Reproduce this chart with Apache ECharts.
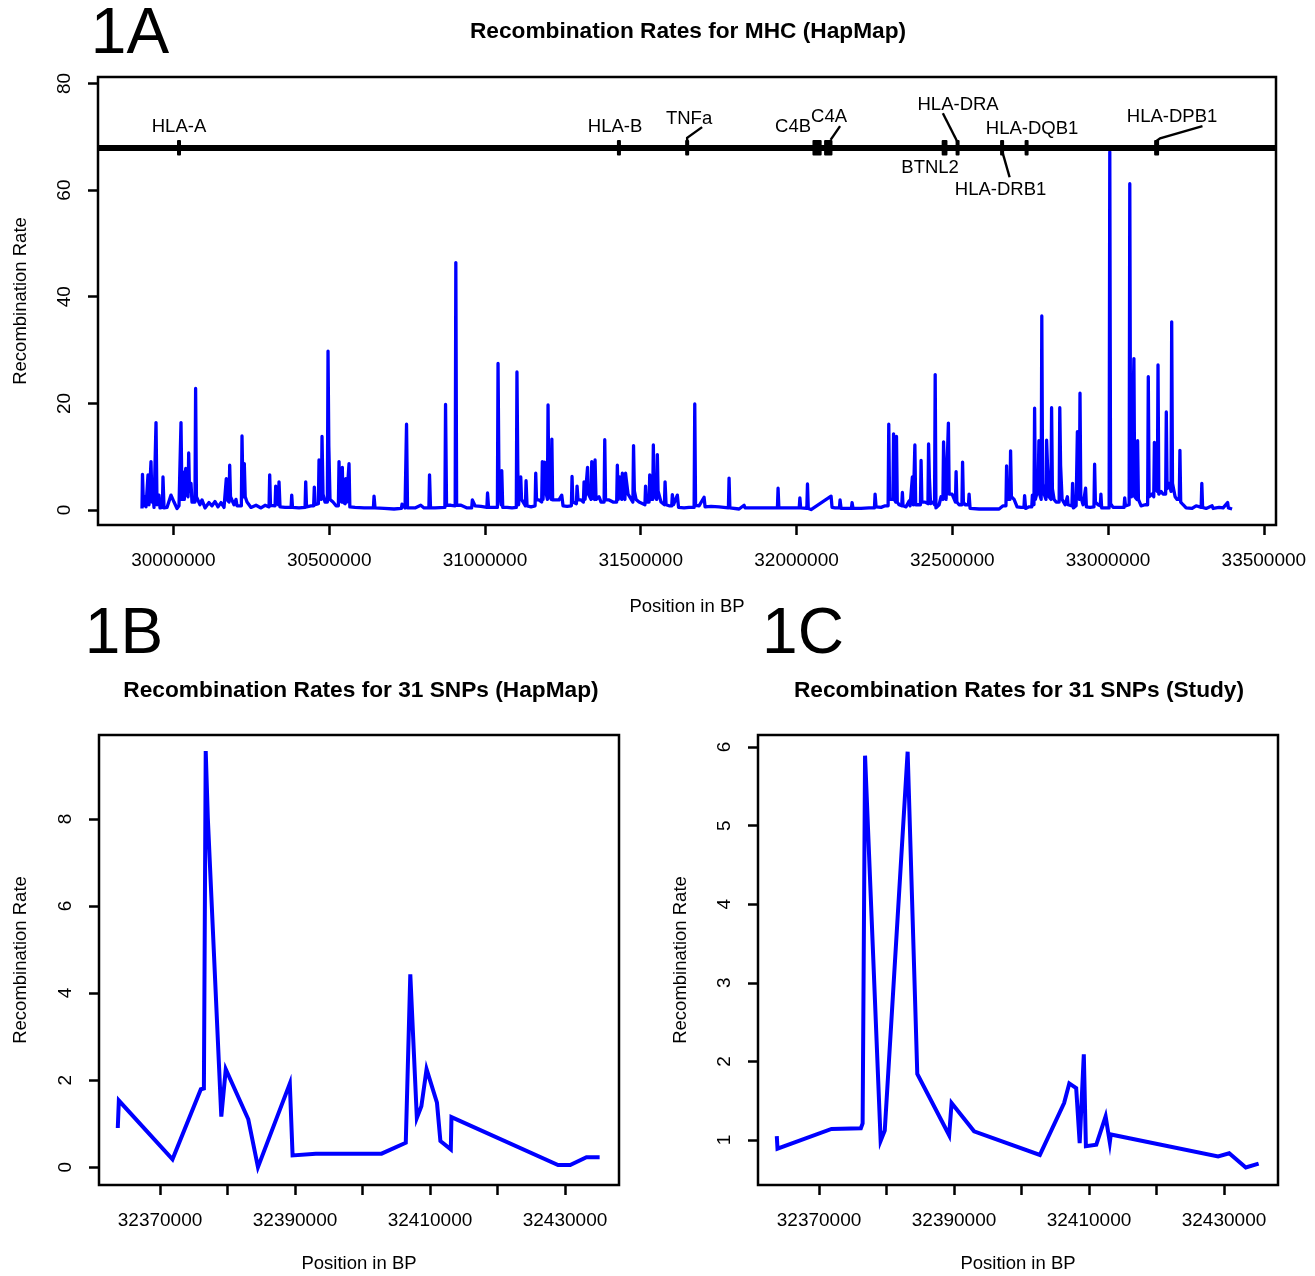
<!DOCTYPE html>
<html><head><meta charset="utf-8">
<script src="https://cdn.jsdelivr.net/npm/echarts@6/dist/echarts.min.js"></script>
<style>html,body{margin:0;padding:0;background:#fff}#c{width:1315px;height:1276px}</style>
</head><body><div id="c"></div>
<script>
// ---------------- DATA ----------------
// Panel 1A: MHC recombination rates, [position (kb), rate]
const mhcData = [
[29899.2,0.3],[29900.8,6.7],[29904.0,0.8],[29908.9,2.5],[29912.1,0.6],[29916.5,0.8],[29918.5,6.6],[29921.7,1.0],[29926.0,1.0],[29928.1,9.1],[29931.3,1.5],[29934.5,2.8],[29937.8,0.5],[29942.0,0.6],[29944.2,16.4],[29947.4,1.0],[29953.8,2.8],[29957.0,0.4],[29964.5,0.5],[29966.6,6.2],[29969.9,0.4],[29979.5,0.5],[29992.3,2.8],[30002.0,1.5],[30011.6,0.3],[30018.0,0.8],[30022.3,1.0],[30024.4,16.4],[30027.6,2.0],[30031.8,7.1],[30035.0,2.0],[30039.5,7.8],[30042.1,3.0],[30047.0,2.5],[30049.1,10.7],[30051.7,3.5],[30056.5,5.0],[30059.7,1.5],[30069.2,1.5],[30071.3,22.8],[30073.9,2.5],[30079.0,2.2],[30085.4,1.0],[30091.8,1.9],[30101.5,0.4],[30114.3,1.4],[30123.9,0.8],[30133.6,1.6],[30143.2,0.6],[30152.8,1.4],[30162.5,0.5],[30167.7,0.8],[30169.8,5.9],[30172.1,2.0],[30178.6,1.5],[30180.7,8.4],[30183.3,2.5],[30189.1,2.5],[30194.6,1.0],[30201.0,2.0],[30204.2,0.8],[30218.1,0.8],[30220.2,13.9],[30223.4,3.0],[30225.5,2.5],[30227.6,8.7],[30230.5,2.5],[30236.3,1.5],[30249.1,0.5],[30265.2,0.9],[30281.2,0.4],[30294.1,0.9],[30307.0,0.6],[30309.1,6.6],[30311.7,0.9],[30326.3,0.8],[30328.4,4.5],[30331.0,1.5],[30336.9,1.0],[30339.0,5.3],[30342.2,0.6],[30358.3,0.5],[30377.7,0.5],[30379.8,2.8],[30382.3,0.5],[30403.2,0.4],[30422.6,0.5],[30424.7,5.3],[30427.3,0.6],[30441.7,0.8],[30450.2,0.8],[30452.3,4.3],[30454.6,1.0],[30465.3,1.2],[30467.4,9.4],[30470.6,2.5],[30474.9,2.0],[30477.0,13.8],[30480.2,3.0],[30486.7,1.5],[30494.2,1.5],[30496.3,29.8],[30498.9,11.9],[30502.7,2.0],[30512.3,1.5],[30522.0,0.8],[30529.5,0.8],[30531.6,9.1],[30534.2,2.0],[30540.1,1.5],[30542.2,8.0],[30544.4,1.5],[30551.0,1.2],[30553.1,5.9],[30555.7,1.5],[30561.6,1.2],[30563.7,8.7],[30566.3,0.6],[30583.0,0.5],[30611.9,0.4],[30641.9,0.4],[30644.0,2.6],[30647.2,0.4],[30676.1,0.3],[30708.2,0.2],[30731.7,0.3],[30733.8,1.1],[30743.5,0.4],[30746.2,0.4],[30748.3,16.1],[30751.5,0.4],[30775.6,0.4],[30793.9,0.9],[30804.5,0.4],[30820.0,0.4],[30822.1,6.6],[30825.3,0.4],[30839.8,0.4],[30871.4,0.5],[30873.5,19.8],[30876.7,0.9],[30891.1,0.9],[30904.4,0.8],[30906.5,46.4],[30909.1,0.9],[30923.2,0.9],[30942.5,0.4],[30957.4,0.4],[30959.5,1.9],[30968.2,0.8],[30987.4,0.7],[31006.2,0.5],[31008.3,3.2],[31011.5,0.5],[31029.2,0.5],[31039.9,0.5],[31042.0,27.5],[31045.2,4.0],[31051.8,1.0],[31053.9,7.4],[31057.1,0.5],[31070.9,0.5],[31086.9,0.4],[31100.6,0.5],[31102.7,25.9],[31105.5,7.4],[31108.0,1.0],[31112.8,1.0],[31114.9,6.2],[31117.4,2.0],[31129.8,0.8],[31131.9,5.5],[31135.1,0.8],[31147.9,0.6],[31160.9,0.8],[31163.0,6.9],[31165.6,1.9],[31173.6,1.9],[31182.1,1.5],[31184.2,9.1],[31186.4,2.0],[31189.3,2.0],[31191.3,9.0],[31193.5,4.0],[31200.4,2.0],[31202.5,19.7],[31205.1,3.0],[31212.6,2.0],[31214.7,13.3],[31217.3,1.9],[31225.0,1.9],[31237.8,1.9],[31246.5,2.8],[31250.6,0.8],[31263.5,0.7],[31277.4,0.8],[31279.5,6.3],[31282.1,1.5],[31293.5,1.2],[31295.6,4.5],[31298.8,1.9],[31308.4,1.9],[31316.0,1.5],[31318.1,5.3],[31321.3,2.0],[31327.2,2.0],[31329.3,8.0],[31331.9,3.0],[31340.7,2.0],[31342.8,9.1],[31345.3,2.5],[31351.3,2.0],[31353.4,9.4],[31356.6,2.0],[31366.2,2.5],[31372.6,1.5],[31382.4,1.5],[31384.5,13.2],[31387.1,1.9],[31398.3,1.9],[31411.1,1.5],[31422.8,1.5],[31424.9,8.4],[31427.8,2.0],[31432.6,6.2],[31435.2,2.5],[31439.0,2.0],[31441.0,6.9],[31443.9,2.5],[31449.2,2.0],[31451.3,6.9],[31453.8,5.6],[31459.3,3.0],[31474.8,1.5],[31476.9,12.1],[31479.5,3.6],[31485.0,2.0],[31494.6,1.5],[31513.4,1.0],[31515.5,4.5],[31518.0,1.5],[31526.8,1.5],[31528.9,6.6],[31531.5,2.0],[31538.4,2.0],[31540.5,12.2],[31542.8,3.0],[31551.2,2.0],[31553.3,10.4],[31555.6,3.6],[31565.2,1.5],[31576.0,1.0],[31578.1,5.3],[31581.3,1.0],[31590.9,0.8],[31599.4,0.8],[31601.5,2.9],[31605.3,1.0],[31617.5,2.8],[31621.4,0.5],[31639.1,0.4],[31655.1,0.5],[31671.3,0.5],[31673.4,19.9],[31676.0,0.9],[31687.2,0.8],[31703.3,2.4],[31706.5,0.6],[31725.7,0.7],[31751.4,0.6],[31781.4,0.4],[31783.5,6.0],[31786.1,0.4],[31815.6,0.2],[31831.7,0.9],[31834.9,0.4],[31863.8,0.4],[31911.9,0.4],[31938.7,0.4],[31940.8,4.1],[31943.4,0.4],[31976.1,0.4],[32008.7,0.4],[32010.8,2.3],[32013.3,0.4],[32033.1,0.3],[32035.2,4.9],[32037.7,0.3],[32046.7,0.1],[32110.9,2.6],[32114.1,0.5],[32123.8,0.4],[32137.7,0.4],[32139.8,1.9],[32143.0,0.3],[32162.3,0.3],[32176.2,0.3],[32178.3,1.4],[32181.5,0.3],[32207.2,0.3],[32232.9,0.4],[32250.1,0.4],[32252.2,3.0],[32255.4,0.6],[32271.4,0.5],[32284.3,0.8],[32294.0,0.8],[32296.1,16.1],[32298.7,2.0],[32309.4,2.0],[32311.5,14.3],[32313.8,2.0],[32318.8,1.5],[32320.9,13.8],[32323.4,1.5],[32329.2,1.0],[32337.7,0.8],[32339.8,3.3],[32342.0,0.8],[32351.7,0.6],[32361.3,1.7],[32364.5,0.8],[32369.8,0.8],[32371.9,6.2],[32374.8,1.0],[32377.8,1.0],[32379.9,12.2],[32382.5,1.0],[32390.2,1.0],[32397.7,1.0],[32399.8,9.3],[32402.4,1.5],[32412.7,1.5],[32421.8,1.2],[32423.9,12.4],[32426.5,6.0],[32430.3,1.2],[32438.3,1.5],[32443.0,1.0],[32445.1,25.4],[32447.6,0.4],[32457.6,1.0],[32464.0,2.5],[32469.9,2.0],[32472.0,12.8],[32474.3,8.0],[32480.1,2.0],[32485.4,2.0],[32487.5,16.3],[32490.0,3.0],[32499.3,3.0],[32510.1,1.5],[32512.2,7.2],[32514.7,1.5],[32521.8,1.0],[32530.9,1.0],[32533.0,9.0],[32535.6,1.5],[32541.1,1.0],[32551.8,1.0],[32553.9,3.0],[32557.1,0.3],[32586.0,0.2],[32618.1,0.2],[32650.2,0.2],[32663.0,0.8],[32672.2,0.8],[32674.3,8.3],[32676.8,2.0],[32685.0,2.0],[32687.1,11.1],[32689.7,2.5],[32698.4,2.0],[32708.0,0.6],[32720.8,0.5],[32730.0,0.5],[32732.1,2.7],[32735.3,0.3],[32746.5,0.6],[32755.0,0.6],[32757.1,2.8],[32762.1,1.0],[32764.2,19.1],[32766.7,2.0],[32775.4,4.0],[32778.0,13.0],[32780.2,3.0],[32785.2,2.0],[32787.3,36.4],[32789.8,5.0],[32794.7,3.0],[32800.6,2.0],[32802.7,13.1],[32805.2,9.0],[32810.7,2.5],[32816.6,2.0],[32818.7,19.2],[32821.3,4.0],[32826.8,2.0],[32833.2,1.5],[32842.9,1.5],[32845.0,19.2],[32847.6,8.4],[32852.4,2.0],[32862.1,1.0],[32869.4,2.5],[32871.7,1.0],[32884.0,0.8],[32886.1,5.0],[32888.7,0.4],[32897.4,0.8],[32899.4,1.0],[32901.5,14.7],[32903.8,3.0],[32907.8,2.0],[32909.9,21.9],[32912.5,2.5],[32919.8,1.0],[32925.8,0.8],[32927.9,4.1],[32930.4,0.6],[32942.3,0.5],[32954.7,0.6],[32956.8,8.6],[32959.3,1.5],[32968.0,1.0],[32974.9,0.8],[32977.0,3.0],[32979.5,0.4],[32993.7,0.4],[33003.4,0.4],[33005.5,67.2],[33008.1,1.2],[33016.1,0.5],[33035.4,0.5],[33051.3,0.5],[33053.4,2.3],[33055.9,0.8],[33061.1,1.0],[33067.6,1.0],[33069.7,61.2],[33072.3,8.0],[33075.0,2.5],[33080.8,2.5],[33082.9,28.4],[33085.5,2.5],[33092.7,2.0],[33094.8,13.0],[33097.4,2.0],[33106.0,0.8],[33118.9,1.0],[33127.0,1.0],[33129.1,25.0],[33131.7,2.5],[33141.3,3.0],[33146.6,2.5],[33148.7,12.7],[33151.3,4.0],[33158.2,3.5],[33160.3,27.2],[33162.8,3.0],[33170.2,3.5],[33176.6,3.0],[33184.8,3.0],[33186.9,18.4],[33189.5,4.0],[33195.9,5.0],[33202.1,3.5],[33204.2,35.3],[33206.8,5.0],[33215.2,2.5],[33221.6,2.0],[33228.5,2.0],[33230.6,11.2],[33233.1,1.5],[33240.8,1.0],[33250.5,0.4],[33269.7,0.3],[33282.6,0.8],[33298.8,0.5],[33300.9,5.0],[33303.4,0.5],[33314.7,0.3],[33333.9,0.8],[33337.1,0.3],[33356.4,0.5],[33369.2,0.4],[33383.7,1.4],[33386.2,0.4],[33398.1,0.2]
];
const mhcXTicks = [30000000, 30500000, 31000000, 31500000, 32000000, 32500000, 33000000, 33500000];
const mhcYTicks = [0, 20, 40, 60, 80];

// Gene track (positions in kb, track level in rate units)
const geneTrackLevel = 68;
const geneNames  = ['HLA-A', 'HLA-B', 'TNFa', 'C4B', 'C4A', 'BTNL2', 'HLA-DRA', 'HLA-DRB1', 'HLA-DQB1', 'HLA-DPB1'];
const geneStart  = [30016.5, 31428.0, 31647.0, 32051.2, 32088.5, 32465.9, 32512.2, 32653.4, 32733.7, 33147.8];
const geneEnd    = [30019.5, 31432.0, 31651.0, 32080.7, 32115.4, 32484.5, 32521.8, 32666.3, 32743.3, 33163.8];
const geneLabelX = [30018.0, 31417.6, 31655.1, 31989.0, 32104.5, 32428.7, 32518.6, 32655.0, 32756.1, 33205.5];
const geneLabelY = [71.8, 71.8, 73.3, 71.8, 73.7, 64.1, 75.9, 60.0, 71.4, 73.7];
const geneLeaders = [null, null,
  [[31649, 68.5], [31649, 69.8], [31697, 71.8]],
  null,
  [[32109.4, 69.4], [32139.8, 72.0]],
  null,
  [[32516.6, 69.0], [32469.7, 74.4]],
  [[32659.2, 67.5], [32684.0, 62.4]],
  null,
  [[33155.4, 69.2], [33167.0, 69.7], [33303.0, 72.0]]
];

// Panel 1B: 31 SNPs (HapMap)
const snpPosB  = [32363744, 32363900, 32371850, 32376050, 32376500, 32376770, 32377080, 32379080, 32379740, 32383077, 32384510, 32389230, 32389640, 32393080, 32402820, 32406410, 32407080, 32408050, 32408720, 32409490, 32411030, 32411540, 32413080, 32413180, 32428970, 32430770, 32433180, 32435130];
const snpRateB = [0.90, 1.53, 0.18, 1.79, 1.81, 9.56, 8.03, 1.16, 2.25, 1.10, 0.00, 1.92, 0.27, 0.31, 0.31, 0.56, 4.43, 1.13, 1.40, 2.25, 1.48, 0.60, 0.41, 1.15, 0.05, 0.05, 0.23, 0.23];
// Panel 1C: 31 SNPs (Study)
const snpPosC  = [32363744, 32363850, 32371850, 32376200, 32376460, 32376820, 32379130, 32379740, 32383130, 32384560, 32389280, 32389640, 32392970, 32402720, 32406310, 32407080, 32408100, 32408620, 32409230, 32409540, 32411080, 32412460, 32413080, 32413230, 32429130, 32430770, 32433230, 32435130];
const snpRateC = [1.05, 0.89, 1.14, 1.15, 1.21, 5.89, 0.99, 1.12, 5.94, 1.84, 1.06, 1.47, 1.11, 0.81, 1.47, 1.72, 1.66, 0.96, 2.09, 0.92, 0.94, 1.30, 0.97, 1.07, 0.79, 0.83, 0.65, 0.70];
const snpXTicks  = [32370000, 32380000, 32390000, 32400000, 32410000, 32420000, 32430000];
const snpXLabels = [32370000, 32390000, 32410000, 32430000];
const snpYTicksB = [0, 2, 4, 6, 8];
const snpYTicksC = [1, 2, 3, 4, 5, 6];

// ---------------- CHART ----------------
const FONT = '"Liberation Sans", Arial, Helvetica, sans-serif';
const BLUE = '#0000ff';
const chart = echarts.init(document.getElementById('c'), null, {renderer: 'canvas'});

function gridOf(left, top, width, height) {
  return {left, top, width, height, show: true, borderColor: '#000', borderWidth: 2.5,
          backgroundColor: 'transparent', containLabel: false, outerBoundsMode: 'none'};
}
function xAxisOf(gi, min, max, ticks, labels, nameGap) {
  return {
    type: 'value', gridIndex: gi, min, max, position: 'bottom',
    name: 'Position in BP', nameLocation: 'middle', nameGap, nameMoveOverlap: false,
    nameTextStyle: {fontFamily: FONT, fontSize: 18.5, color: '#000'},
    axisLine: {show: false, onZero: false},
    axisTick: {show: true, customValues: ticks, length: 10, lineStyle: {color: '#000', width: 2.5}},
    axisLabel: {show: true, customValues: labels, margin: 26, fontFamily: FONT, fontSize: 19, color: '#000',
                formatter: v => String(Math.round(v)), hideOverlap: false},
    splitLine: {show: false}
  };
}
function yAxisOf(gi, min, max, ticks, nameGap) {
  return {
    type: 'value', gridIndex: gi, min, max, position: 'left',
    name: 'Recombination Rate', nameLocation: 'middle', nameGap, nameMoveOverlap: false,
    nameTextStyle: {fontFamily: FONT, fontSize: 18.5, color: '#000'},
    axisLine: {show: false, onZero: false},
    axisTick: {show: true, customValues: ticks, length: 10, lineStyle: {color: '#000', width: 2.5}},
    axisLabel: {show: true, customValues: ticks, rotate: 90, margin: 24, fontFamily: FONT, fontSize: 19, color: '#000',
                formatter: v => String(v), hideOverlap: false},
    splitLine: {show: false}
  };
}

const geneTop = 69.4, geneBottom = 66.5;

const option = {
  animation: false,
  backgroundColor: '#fff',
  grid: [gridOf(98, 77, 1178, 448), gridOf(99, 735, 520, 450), gridOf(758, 735, 520, 450)],
  xAxis: [
    xAxisOf(0, 29758000, 33539000, mhcXTicks, mhcXTicks, 72),
    xAxisOf(1, 32360960, 32438000, snpXTicks, snpXLabels, 69),
    xAxisOf(2, 32360960, 32438000, snpXTicks, snpXLabels, 69)
  ],
  yAxis: [
    yAxisOf(0, -2.8, 81.2, mhcYTicks, 68),
    yAxisOf(1, -0.41, 9.93, snpYTicksB, 69),
    yAxisOf(2, 0.427, 6.153, snpYTicksC, 68)
  ],
  graphic: [
    {type: 'text', x: 130, y: 35, style: {text: '1A', fontFamily: FONT, fontSize: 64, fill: '#000', align: 'center', verticalAlign: 'middle'}},
    {type: 'text', x: 124, y: 635, style: {text: '1B', fontFamily: FONT, fontSize: 64, fill: '#000', align: 'center', verticalAlign: 'middle'}},
    {type: 'text', x: 803, y: 635, style: {text: '1C', fontFamily: FONT, fontSize: 64, fill: '#000', align: 'center', verticalAlign: 'middle'}},
    {type: 'text', x: 688, y: 32, style: {text: 'Recombination Rates for MHC (HapMap)', fontFamily: FONT, fontSize: 22.7, fontWeight: 'bold', fill: '#000', align: 'center', verticalAlign: 'middle'}},
    {type: 'text', x: 361, y: 691, style: {text: 'Recombination Rates for 31 SNPs (HapMap)', fontFamily: FONT, fontSize: 22.7, fontWeight: 'bold', fill: '#000', align: 'center', verticalAlign: 'middle'}},
    {type: 'text', x: 1019, y: 691, style: {text: 'Recombination Rates for 31 SNPs (Study)', fontFamily: FONT, fontSize: 22.7, fontWeight: 'bold', fill: '#000', align: 'center', verticalAlign: 'middle'}}
  ],
  series: [
    {
      type: 'line', xAxisIndex: 0, yAxisIndex: 0, showSymbol: false, symbol: 'none', sampling: null,
      data: mhcData.map(p => [p[0] * 1000, p[1]]),
      lineStyle: {color: BLUE, width: 3.3, join: 'round'},
      markLine: {silent: true, symbol: 'none', label: {show: false},
                 lineStyle: {color: '#000', width: 6, type: 'solid'},
                 data: [{yAxis: geneTrackLevel}]}
    },
    {
      type: 'custom', xAxisIndex: 0, yAxisIndex: 0, silent: true, clip: false, z: 5,
      data: geneNames.map((n, i) => [geneStart[i] * 1000, geneTrackLevel, i]),
      encode: {x: 0, y: 1},
      renderItem: function (params, api) {
        const i = api.value(2);
        const a = api.coord([geneStart[i] * 1000, geneTop]);
        const b = api.coord([geneEnd[i] * 1000, geneBottom]);
        const w = Math.max(b[0] - a[0], 4);
        const cx = (a[0] + b[0]) / 2;
        const children = [{type: 'rect', shape: {x: cx - w / 2, y: a[1], width: w, height: b[1] - a[1], r: 1}, style: {fill: '#000'}}];
        const lp = api.coord([geneLabelX[i] * 1000, geneLabelY[i]]);
        children.push({type: 'text', x: lp[0], y: lp[1], style: {text: geneNames[i], fill: '#000', fontFamily: FONT, fontSize: 18.5, align: 'center', verticalAlign: 'middle'}});
        if (geneLeaders[i]) {
          children.push({type: 'polyline', shape: {points: geneLeaders[i].map(p => api.coord([p[0] * 1000, p[1]]))},
                         style: {stroke: '#000', lineWidth: 2.4, fill: null}});
        }
        return {type: 'group', children};
      }
    },
    {
      type: 'line', xAxisIndex: 1, yAxisIndex: 1, showSymbol: false, symbol: 'none',
      data: snpPosB.map((x, i) => [x, snpRateB[i]]),
      lineStyle: {color: BLUE, width: 4, join: 'miter'}
    },
    {
      type: 'line', xAxisIndex: 2, yAxisIndex: 2, showSymbol: false, symbol: 'none',
      data: snpPosC.map((x, i) => [x, snpRateC[i]]),
      lineStyle: {color: BLUE, width: 4, join: 'miter'}
    }
  ]
};
chart.setOption(option);
</script>
</body></html>
